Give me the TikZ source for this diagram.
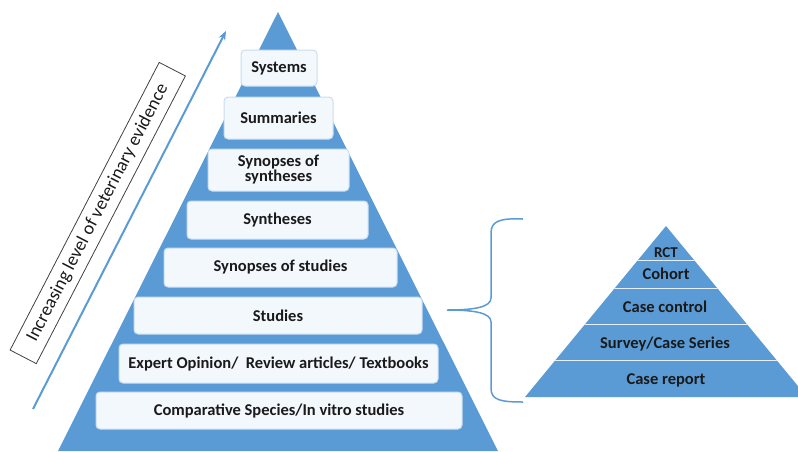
\documentclass[tikz,border=0pt]{standalone}
\usepackage{fontspec}
\setmainfont{Carlito}
\usetikzlibrary{arrows.meta}
\definecolor{pyr}{HTML}{5B9BD5}
\definecolor{boxfill}{HTML}{F3F8FD}
\definecolor{boxline}{HTML}{C9DDF1}
\definecolor{txt}{HTML}{1A1A1A}
\tikzset{
  lvlbox/.style={draw=boxline, line width=1pt, fill=boxfill, rounded corners=4pt,
    text=txt, font=\fontsize{16.5}{17}\selectfont\bfseries, align=center, inner sep=1pt},
  smalllbl/.style={text=txt, font=\fontsize{16.5}{17}\selectfont\bfseries, inner sep=0pt},
  divider/.style={draw=white!85!pyr, line width=1pt},
}
\begin{document}
\begin{tikzpicture}[x=1pt,y=-1pt]
\clip (0,0) rectangle (798,451);
\useasboundingbox (0,0) rectangle (798,451);
% big pyramid
\coordinate (apex) at (278,12);
\coordinate (bl) at (58,451);
\coordinate (br) at (498,451);
\fill[pyr] (apex) -- (br) -- (bl) -- cycle;
% boxes
\node[lvlbox, minimum width=76pt, minimum height=36pt] (systems) at (279,68) {Systems};
\node[lvlbox, minimum width=109pt, minimum height=42pt] (summaries) at (278.5,118) {Summaries};
\node[lvlbox, minimum width=141pt, minimum height=42pt] (synsyn) at (278.5,170) {Synopses of\\[-2pt]syntheses};
\node[lvlbox, minimum width=181pt, minimum height=38pt] (syntheses) at (277.5,220) {Syntheses};
\node[lvlbox, minimum width=233pt, minimum height=39pt] (synstud) at (280.5,267.5) {Synopses of studies};
\node[lvlbox, minimum width=288pt, minimum height=37pt] (studies) at (278,315.5) {Studies};
\node[lvlbox, minimum width=319pt, minimum height=39pt] (expert) at (278.5,363.5) {Expert Opinion/\ \ Review articles/ Textbooks};
\node[lvlbox, minimum width=366pt, minimum height=37pt] (comp) at (279,410.5) {Comparative Species/In vitro studies};
% arrow
\coordinate (arrS) at (33,409);
\coordinate (arrE) at (226,31);
\draw[pyr, line width=2pt, -{Stealth[length=9pt,width=7pt]}] (arrS) -- (arrE);
% rotated label
\node[draw=black!75, line width=0.8pt, rotate=62.6, minimum width=324pt, minimum height=29.5pt,
  inner sep=0pt, font=\fontsize{18.5}{19}\selectfont, text=txt] (evid) at (97.75,213) {Increasing level of veterinary evidence};
% brace
\draw[pyr, line width=1.5pt] (523,219) .. controls (500,218) and (491,221) .. (491,233)
  -- (491,298) .. controls (491,307) and (475,310) .. (447,310)
  .. controls (475,310) and (491,313) .. (491,322)
  -- (491,388) .. controls (491,400) and (500,402) .. (523,402);
% small pyramid
\coordinate (sapex) at (666,226);
\coordinate (sbl) at (525,397);
\coordinate (sbr) at (807,397);
\fill[pyr] (sapex) -- (sbr) -- (sbl) -- cycle;
\draw[divider] (525,397.5) -- (807,397.5);
\begin{scope}
\clip (sapex) -- (sbr) -- (sbl) -- cycle;
\draw[divider] (520,260.7) -- (810,260.7);
\draw[divider] (520,288) -- (810,288);
\draw[divider] (520,324.3) -- (810,324.3);
\draw[divider] (520,360.7) -- (810,360.7);
\end{scope}
\node[smalllbl, font=\fontsize{15}{16}\selectfont\bfseries] (rct) at (666,253) {RCT};
\node[smalllbl] (cohort) at (666,274) {Cohort};
\node[smalllbl] (casectl) at (665,307) {Case control};
\node[smalllbl] (survey) at (665,344) {Survey/Case Series};
\node[smalllbl] (casereport) at (666,380) {Case report};
\end{tikzpicture}
\end{document}
